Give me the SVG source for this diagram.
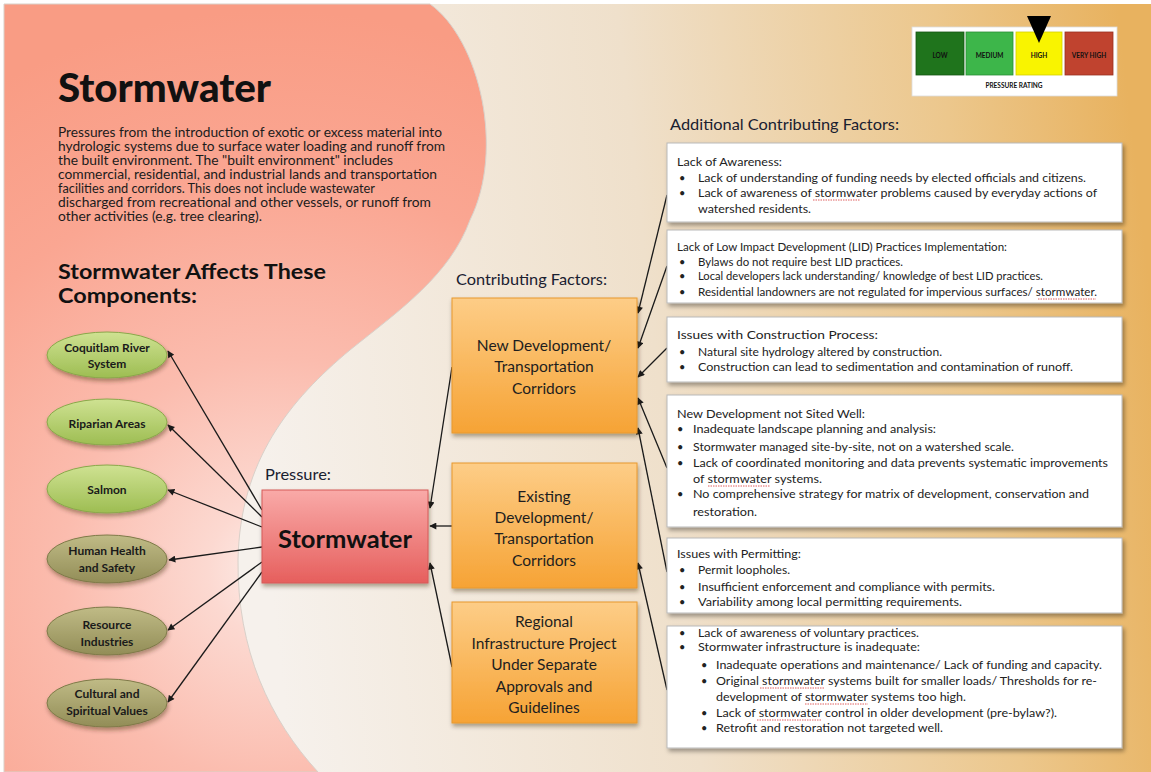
<svg xmlns="http://www.w3.org/2000/svg" width="1151" height="772" viewBox="0 0 1151 772">
  <defs>
    <linearGradient id="bgRight" x1="250" y1="400" x2="1151" y2="300" gradientUnits="userSpaceOnUse">
      <stop offset="0" stop-color="#f6f1ec"/>
      <stop offset="0.45" stop-color="#efe0cb"/>
      <stop offset="0.8" stop-color="#ecc78c"/>
      <stop offset="1" stop-color="#e8b25f"/>
    </linearGradient>
    <radialGradient id="pinkFill" cx="275" cy="570" r="560" gradientUnits="userSpaceOnUse">
      <stop offset="0" stop-color="#fdeeea"/>
      <stop offset="0.12" stop-color="#fcd9d1"/>
      <stop offset="0.38" stop-color="#fbbcae"/>
      <stop offset="0.7" stop-color="#faa692"/>
      <stop offset="1" stop-color="#f99c84"/>
    </radialGradient>
    <linearGradient id="gGreen" x1="0" y1="0" x2="0" y2="1">
      <stop offset="0" stop-color="#cfe292"/>
      <stop offset="1" stop-color="#9dbd52"/>
    </linearGradient>
    <linearGradient id="gOlive" x1="0" y1="0" x2="0" y2="1">
      <stop offset="0" stop-color="#c0bb86"/>
      <stop offset="1" stop-color="#928d57"/>
    </linearGradient>
    <linearGradient id="gRed" x1="0" y1="0" x2="0" y2="1">
      <stop offset="0" stop-color="#f9aaa8"/>
      <stop offset="1" stop-color="#e65f5d"/>
    </linearGradient>
    <linearGradient id="gOrange" x1="0" y1="0" x2="0" y2="1">
      <stop offset="0" stop-color="#fdcd87"/>
      <stop offset="1" stop-color="#f6a335"/>
    </linearGradient>
    <filter id="shadow" x="-10%" y="-10%" width="125%" height="130%">
      <feDropShadow dx="2" dy="3" stdDeviation="2" flood-color="#000" flood-opacity="0.35"/>
    </filter>
    <filter id="softShadow" x="-10%" y="-10%" width="125%" height="135%">
      <feDropShadow dx="1" dy="3" stdDeviation="2" flood-color="#3a2a10" flood-opacity="0.4"/>
    </filter>
    <marker id="arrow" viewBox="0 0 10 10" refX="9" refY="5" markerWidth="8" markerHeight="7" markerUnits="userSpaceOnUse" orient="auto">
      <path d="M0,0 L10,5 L0,10 z" fill="#1a1a1a"/>
    </marker>
    <style>
      text { font-family: Lato, "Liberation Sans", sans-serif; fill: #1c1c1c; }
      .title { font-size: 40px; font-weight: 900; fill: #111; }
      .para { font-size: 12.5px; }
      .sub { font-size: 20px; font-weight: bold; fill: #111; }
      .lbl { font-size: 15px; fill: #1a2030; }
      .ell { font-size: 12px; font-weight: bold; text-anchor: middle; fill: #1a1a1a; }
      .orange { font-size: 15.5px; text-anchor: middle; fill: #1e1e1e; }
      .big { font-size: 25px; font-weight: bold; text-anchor: middle; fill: #111; }
      .box { font-size: 11px; fill: #222; }
      .leg { font-size: 6.5px; font-weight: bold; text-anchor: middle; fill: #111; }
      .wbox { fill: #ffffff; stroke: #b9b9b9; stroke-width: 1; filter: url(#shadow); }
      .obox { fill: url(#gOrange); stroke: #e8982e; stroke-width: 1; filter: url(#softShadow); }
      .conn { stroke: #1a1a1a; stroke-width: 1.3; fill: none; marker-end: url(#arrow); }
      .sq { stroke: #e06060; stroke-width: 1; stroke-dasharray: 1.5 1; fill: none; }
    </style>
  </defs>

  <!-- canvas -->
  <rect x="0" y="0" width="1151" height="772" fill="#ffffff"/>
  <rect x="4" y="4" width="1147" height="768" fill="url(#bgRight)"/>

  <!-- pink field on the left -->
  <path d="M4,4 H430 C480,40 505,150 470,220 C450,275 400,310 350,350 C290,400 240,460 238,560 C237,650 270,720 318,772 H4 Z" fill="url(#pinkFill)" stroke="#d9d0c9" stroke-width="1"/>

  <!-- pressure rating scale -->
  <g id="pressure-rating">
    <rect x="912" y="27" width="205" height="69" fill="#ffffff" stroke="#dddddd" stroke-width="0.8"/>
    <rect x="916" y="32" width="48" height="43" fill="#1f741c" stroke="#155512" stroke-width="0.8"/>
    <rect x="966" y="32" width="47" height="43" fill="#3db64a" stroke="#2a8e35" stroke-width="0.8"/>
    <rect x="1016" y="32" width="46" height="43" fill="#f9f400" stroke="#d4cf00" stroke-width="0.8"/>
    <rect x="1065" y="32" width="48" height="43" fill="#c0432f" stroke="#983020" stroke-width="0.8"/>
    <text class="leg" x="940" y="58">LOW</text>
    <text class="leg" x="989.5" y="58">MEDIUM</text>
    <text class="leg" x="1039" y="58">HIGH</text>
    <text class="leg" x="1089" y="58">VERY HIGH</text>
    <text class="leg" x="1014" y="88">PRESSURE RATING</text>
    <path d="M1027,16 L1051,16 L1039,43 Z" fill="#000000"/>
  </g>

  <!-- heading and description -->
  <g id="header">
    <text class="title" x="58" y="102" textLength="213" lengthAdjust="spacingAndGlyphs">Stormwater</text>
    <text class="para" x="58" y="137" textLength="384" lengthAdjust="spacingAndGlyphs">Pressures from the introduction of exotic or excess material into</text>
    <text class="para" x="58" y="151" textLength="387" lengthAdjust="spacingAndGlyphs">hydrologic systems due to surface water loading and runoff from</text>
    <text class="para" x="58" y="165" textLength="335" lengthAdjust="spacingAndGlyphs">the built environment. The "built environment" includes</text>
    <text class="para" x="58" y="179" textLength="379" lengthAdjust="spacingAndGlyphs">commercial, residential, and industrial lands and transportation</text>
    <text class="para" x="58" y="193" textLength="317" lengthAdjust="spacingAndGlyphs">facilities and corridors. This does not include wastewater</text>
    <text class="para" x="58" y="207" textLength="373" lengthAdjust="spacingAndGlyphs">discharged from recreational and other vessels, or runoff from</text>
    <text class="para" x="58" y="221" textLength="204" lengthAdjust="spacingAndGlyphs">other activities (e.g. tree clearing).</text>
    <text class="sub" x="58" y="279" textLength="268" lengthAdjust="spacingAndGlyphs">Stormwater Affects These</text>
    <text class="sub" x="58" y="303" textLength="139" lengthAdjust="spacingAndGlyphs">Components:</text>
    <text class="lbl" x="265" y="480" textLength="66" lengthAdjust="spacingAndGlyphs">Pressure:</text>
    <text class="lbl" x="456" y="285" textLength="151" lengthAdjust="spacingAndGlyphs">Contributing Factors:</text>
    <text class="lbl" x="670" y="130" style="font-size:16px" textLength="229" lengthAdjust="spacingAndGlyphs">Additional Contributing Factors:</text>
  </g>

  <!-- connectors -->
  <g id="connectors">
    <line class="conn" x1="262" y1="510" x2="168" y2="351"/>
    <line class="conn" x1="262" y1="517" x2="168" y2="425"/>
    <line class="conn" x1="262" y1="527" x2="168" y2="490"/>
    <line class="conn" x1="262" y1="547" x2="169" y2="560"/>
    <line class="conn" x1="262" y1="562" x2="168" y2="630"/>
    <line class="conn" x1="262" y1="572" x2="168" y2="702"/>

    <line class="conn" x1="452" y1="367" x2="430" y2="508"/>
    <line class="conn" x1="452" y1="526" x2="430" y2="526"/>
    <line class="conn" x1="452" y1="667" x2="430" y2="563"/>

    <line class="conn" x1="667" y1="195" x2="638" y2="313"/>
    <line class="conn" x1="667" y1="266" x2="638" y2="348"/>
    <line class="conn" x1="667" y1="348" x2="638" y2="377"/>
    <line class="conn" x1="667" y1="468" x2="638" y2="398"/>
    <line class="conn" x1="667" y1="572" x2="638" y2="428"/>
    <line class="conn" x1="667" y1="690" x2="638" y2="563"/>
  </g>

  <!-- affected components -->
  <g id="coquitlam-river">
    <ellipse cx="107" cy="355" rx="60" ry="23" fill="url(#gGreen)" stroke="#8aa84a" stroke-width="1" filter="url(#softShadow)"/>
    <text class="ell" x="107" y="352">Coquitlam River</text>
    <text class="ell" x="107" y="368">System</text>
  </g>
  <g id="riparian-areas">
    <ellipse cx="107" cy="422" rx="60" ry="23" fill="url(#gGreen)" stroke="#8aa84a" stroke-width="1" filter="url(#softShadow)"/>
    <text class="ell" x="107" y="428">Riparian Areas</text>
  </g>
  <g id="salmon">
    <ellipse cx="107" cy="489" rx="60" ry="24" fill="url(#gGreen)" stroke="#8aa84a" stroke-width="1" filter="url(#softShadow)"/>
    <text class="ell" x="107" y="494">Salmon</text>
  </g>
  <g id="human-health">
    <ellipse cx="107" cy="559" rx="60" ry="24" fill="url(#gOlive)" stroke="#7f7a48" stroke-width="1" filter="url(#softShadow)"/>
    <text class="ell" x="107" y="555">Human Health</text>
    <text class="ell" x="107" y="572">and Safety</text>
  </g>
  <g id="resource-industries">
    <ellipse cx="107" cy="631" rx="60" ry="24" fill="url(#gOlive)" stroke="#7f7a48" stroke-width="1" filter="url(#softShadow)"/>
    <text class="ell" x="107" y="629">Resource</text>
    <text class="ell" x="107" y="646">Industries</text>
  </g>
  <g id="cultural-values">
    <ellipse cx="107" cy="703" rx="60" ry="24" fill="url(#gOlive)" stroke="#7f7a48" stroke-width="1" filter="url(#softShadow)"/>
    <text class="ell" x="107" y="698">Cultural and</text>
    <text class="ell" x="107" y="715">Spiritual Values</text>
  </g>

  <!-- pressure -->
  <g id="stormwater">
    <rect x="262" y="490" width="166" height="93" fill="url(#gRed)" stroke="#d65a58" stroke-width="1" filter="url(#softShadow)"/>
    <text class="big" x="345" y="548" textLength="134" lengthAdjust="spacingAndGlyphs">Stormwater</text>
  </g>

  <!-- contributing factors -->
  <g id="new-development">
    <rect class="obox" x="452" y="298" width="185" height="135"/>
    <text class="orange" x="544" y="351">New Development/</text>
    <text class="orange" x="544" y="372">Transportation</text>
    <text class="orange" x="544" y="394">Corridors</text>
  </g>
  <g id="existing-development">
    <rect class="obox" x="452" y="463" width="185" height="125"/>
    <text class="orange" x="544" y="502">Existing</text>
    <text class="orange" x="544" y="523">Development/</text>
    <text class="orange" x="544" y="544">Transportation</text>
    <text class="orange" x="544" y="566">Corridors</text>
  </g>
  <g id="regional-infrastructure">
    <rect class="obox" x="452" y="602" width="185" height="121"/>
    <text class="orange" x="544" y="627">Regional</text>
    <text class="orange" x="544" y="649">Infrastructure Project</text>
    <text class="orange" x="544" y="670">Under Separate</text>
    <text class="orange" x="544" y="692">Approvals and</text>
    <text class="orange" x="544" y="713">Guidelines</text>
  </g>

  <!-- additional contributing factors -->
  <g id="lack-of-awareness">
    <rect class="wbox" x="667" y="143" width="455" height="79"/>
    <text class="box" x="677" y="166" textLength="105" lengthAdjust="spacingAndGlyphs">Lack of Awareness:</text>
    <text class="box" x="679" y="182">•</text>
    <text class="box" x="698" y="182" textLength="388" lengthAdjust="spacingAndGlyphs">Lack of understanding of funding needs by elected officials and citizens.</text>
    <text class="box" x="679" y="197">•</text>
    <text class="box" x="698" y="197" textLength="399" lengthAdjust="spacingAndGlyphs">Lack of awareness of stormwater problems caused by everyday actions of</text>
    <text class="box" x="698" y="213" textLength="113" lengthAdjust="spacingAndGlyphs">watershed residents.</text>
    <path class="sq" d="M813,200 H860"/>
  </g>
  <g id="lid-practices">
    <rect class="wbox" x="667" y="230" width="455" height="73"/>
    <text class="box" x="677" y="251" textLength="330" lengthAdjust="spacingAndGlyphs">Lack of Low Impact Development (LID) Practices Implementation:</text>
    <text class="box" x="679" y="266">•</text>
    <text class="box" x="698" y="266" textLength="205" lengthAdjust="spacingAndGlyphs">Bylaws do not require best LID practices.</text>
    <text class="box" x="679" y="280">•</text>
    <text class="box" x="698" y="280" textLength="345" lengthAdjust="spacingAndGlyphs">Local developers lack understanding/ knowledge of best LID practices.</text>
    <text class="box" x="679" y="296">•</text>
    <text class="box" x="698" y="296" textLength="399" lengthAdjust="spacingAndGlyphs">Residential landowners are not regulated for impervious surfaces/ stormwater.</text>
    <path class="sq" d="M1038,299 H1096"/>
  </g>
  <g id="construction-process">
    <rect class="wbox" x="667" y="317" width="455" height="65"/>
    <text class="box" x="677" y="339" textLength="201" lengthAdjust="spacingAndGlyphs">Issues with Construction Process:</text>
    <text class="box" x="679" y="356">•</text>
    <text class="box" x="698" y="356" textLength="244" lengthAdjust="spacingAndGlyphs">Natural site hydrology altered by construction.</text>
    <text class="box" x="679" y="371">•</text>
    <text class="box" x="698" y="371" textLength="375" lengthAdjust="spacingAndGlyphs">Construction can lead to sedimentation and contamination of runoff.</text>
  </g>
  <g id="not-sited-well">
    <rect class="wbox" x="667" y="395" width="455" height="132"/>
    <text class="box" x="677" y="418" textLength="188" lengthAdjust="spacingAndGlyphs">New Development not Sited Well:</text>
    <text class="box" x="677" y="433">•</text>
    <text class="box" x="693" y="433" textLength="243" lengthAdjust="spacingAndGlyphs">Inadequate landscape planning and analysis:</text>
    <text class="box" x="677" y="451">•</text>
    <text class="box" x="693" y="451" textLength="321" lengthAdjust="spacingAndGlyphs">Stormwater managed site-by-site, not on a watershed scale.</text>
    <text class="box" x="677" y="467">•</text>
    <text class="box" x="693" y="467" textLength="415" lengthAdjust="spacingAndGlyphs">Lack of coordinated monitoring and data prevents systematic improvements</text>
    <text class="box" x="693" y="483" textLength="129" lengthAdjust="spacingAndGlyphs">of stormwater systems.</text>
    <text class="box" x="677" y="498">•</text>
    <text class="box" x="693" y="498" textLength="396" lengthAdjust="spacingAndGlyphs">No comprehensive strategy for matrix of development, conservation and</text>
    <text class="box" x="693" y="516" textLength="64" lengthAdjust="spacingAndGlyphs">restoration.</text>
    <path class="sq" d="M708,486 H770"/>
  </g>
  <g id="permitting">
    <rect class="wbox" x="667" y="538" width="455" height="75"/>
    <text class="box" x="677" y="558" textLength="124" lengthAdjust="spacingAndGlyphs">Issues with Permitting:</text>
    <text class="box" x="679" y="574">•</text>
    <text class="box" x="698" y="574" textLength="92" lengthAdjust="spacingAndGlyphs">Permit loopholes.</text>
    <text class="box" x="679" y="591">•</text>
    <text class="box" x="698" y="591" textLength="297" lengthAdjust="spacingAndGlyphs">Insufficient enforcement and compliance with permits.</text>
    <text class="box" x="679" y="606">•</text>
    <text class="box" x="698" y="606" textLength="264" lengthAdjust="spacingAndGlyphs">Variability among local permitting requirements.</text>
  </g>
  <g id="infrastructure">
    <rect class="wbox" x="667" y="626" width="455" height="122"/>
    <text class="box" x="679" y="637">•</text>
    <text class="box" x="698" y="637" textLength="221" lengthAdjust="spacingAndGlyphs">Lack of awareness of voluntary practices.</text>
    <text class="box" x="679" y="651">•</text>
    <text class="box" x="698" y="651" textLength="222" lengthAdjust="spacingAndGlyphs">Stormwater infrastructure is inadequate:</text>
    <text class="box" x="701" y="669">•</text>
    <text class="box" x="716" y="669" textLength="386" lengthAdjust="spacingAndGlyphs">Inadequate operations and maintenance/ Lack of funding and capacity.</text>
    <text class="box" x="701" y="685">•</text>
    <text class="box" x="716" y="685" textLength="381" lengthAdjust="spacingAndGlyphs">Original stormwater systems built for smaller loads/ Thresholds for re-</text>
    <text class="box" x="716" y="701" textLength="250" lengthAdjust="spacingAndGlyphs">development of stormwater systems too high.</text>
    <text class="box" x="701" y="717">•</text>
    <text class="box" x="716" y="717" textLength="341" lengthAdjust="spacingAndGlyphs">Lack of stormwater control in older development (pre-bylaw?).</text>
    <text class="box" x="701" y="732">•</text>
    <text class="box" x="716" y="732" textLength="227" lengthAdjust="spacingAndGlyphs">Retrofit and restoration not targeted well.</text>
    <path class="sq" d="M760,688 H825"/>
    <path class="sq" d="M805,704 H868"/>
    <path class="sq" d="M757,720 H821"/>
  </g>
</svg>
